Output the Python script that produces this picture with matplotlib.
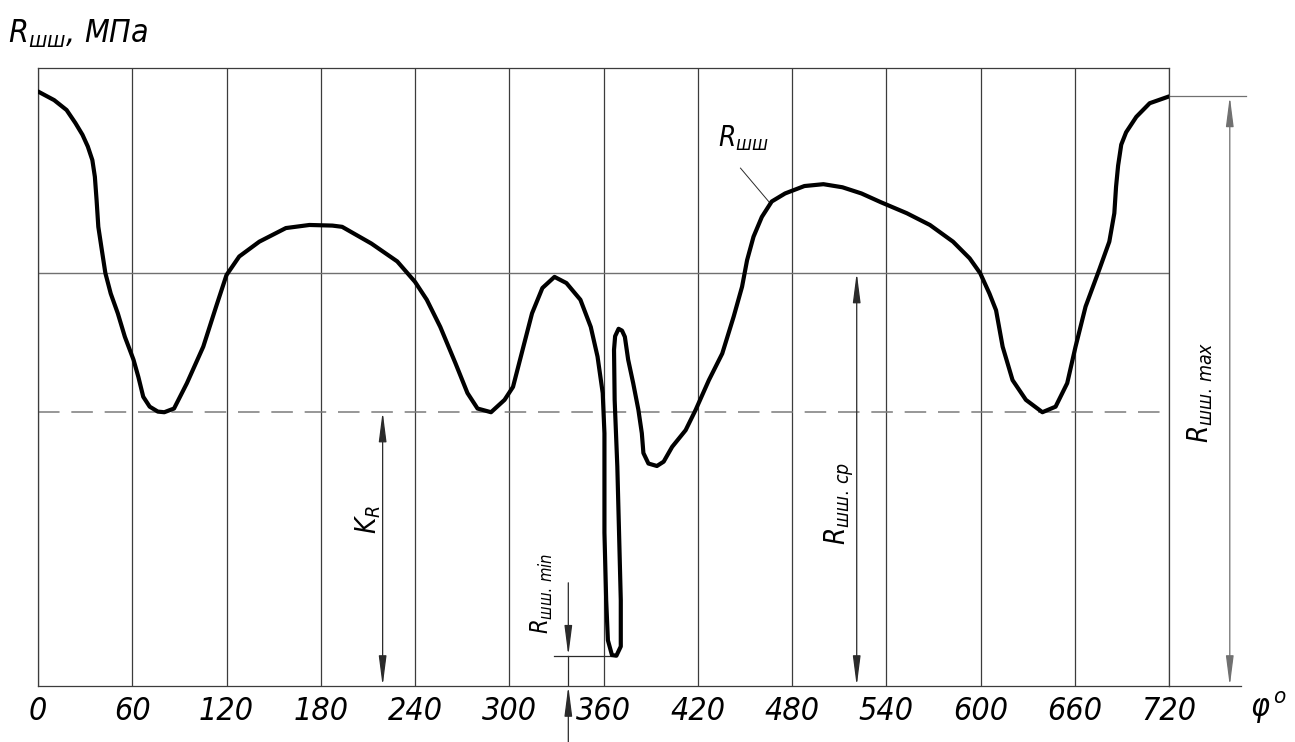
import matplotlib
matplotlib.use("Agg")
import matplotlib.pyplot as plt
from matplotlib import font_manager
from matplotlib.font_manager import FontProperties

# R_шш(φ): φ in degrees, R in drawing units (axis 0..100)
phi = [0, 10.3, 18.2, 23.8, 28.3, 31.7, 34.6, 36.2, 37.3, 38.4, 40.6, 42.9, 46.3, 50.8, 55.3,
       60.8, 63.9, 67.0, 71.1, 76.3, 80.4, 86.6, 94.8, 105.2, 113.4, 120.0,
       128.1, 140.9, 157.8, 172.8, 187.4, 193.6, 212.2, 228.7, 240.0,
       247.5, 256.1, 265.8, 273.4, 279.8, 288.4, 297.0,
       302.4, 309.0, 314.5, 321.1, 328.8, 336.4, 345.3, 351.9, 356.2, 359.5,
       360.6, 360.6, 361.7, 362.8, 365.4, 368.2, 371.0, 371.0, 369.9, 368.8,
       367.1, 366.7, 367.4, 369.6, 371.8, 373.6, 375.7, 378.9, 382.2, 384.4, 385.4,
       388.6, 394.0, 398.3, 403.7, 412.3, 418.7,
       427.1, 435.6, 442.9, 448.2, 451.4, 455.5, 460.8, 467.1, 475.6,
       487.9, 500.0, 512.1, 524.2, 536.4,
       553.1, 567.8, 582.5, 593.1, 599.8,
       605.7, 609.9, 614.1, 620.4, 628.9, 639.4, 647.8, 655.2,
       660.5, 666.9, 675.5, 682.0, 685.2, 686.3, 687.6, 689.6, 692.7, 699.2, 707.7, 720.0]
r_shsh = [96.2, 94.8, 93.2, 91.1, 89.2, 87.3, 85.1, 82.4, 78.6, 74.3, 70.6, 66.8, 63.5, 60.3, 56.5,
          52.8, 50.0, 46.8, 45.2, 44.4, 44.3, 44.9, 49.0, 54.9, 61.4, 66.5,
          69.5, 71.9, 74.1, 74.6, 74.5, 74.3, 71.6, 68.7, 65.4,
          62.5, 58.1, 52.2, 47.4, 44.9, 44.3, 46.3,
          48.4, 54.9, 60.3, 64.4, 66.2, 65.2, 62.5, 58.1, 53.3, 47.4,
          40.9, 24.8, 13.9, 7.4, 5.0, 4.9, 6.4, 13.9, 24.8, 35.5,
          46.3, 54.4, 56.6, 57.8, 57.5, 56.5, 52.8, 49.0, 44.7, 40.9, 37.7,
          36.0, 35.6, 36.3, 38.7, 41.4, 44.7,
          49.5, 53.8, 59.8, 64.6, 68.9, 72.7, 75.9, 78.4, 79.7,
          80.9, 81.2, 80.7, 79.7, 78.3,
          76.5, 74.6, 71.9, 69.2, 66.8,
          63.5, 60.8, 54.9, 49.5, 46.3, 44.3, 45.2, 49.0,
          54.9, 61.4, 67.3, 71.9, 76.5, 80.8, 84.2, 87.6, 89.6, 92.1, 94.3, 95.4]

# characteristic levels
r_max = 95.4
r_mean = 66.9
k_r = 44.4
r_min = 4.9

phi_ticks = list(range(0, 721, 60))
tick_labels = [str(v) for v in phi_ticks]

# pick a narrow font if one is installed (drawing font is a narrow italic)
names = {f.name for f in font_manager.fontManager.ttflist}
has_cond = any(f.name == "DejaVu Sans" and f.stretch == "condensed"
               for f in font_manager.fontManager.ttflist)
if "Liberation Sans Narrow" in names:
    FONT, STRETCH, BIG = "Liberation Sans Narrow", "normal", 26
elif has_cond:
    FONT, STRETCH, BIG = "DejaVu Sans", "condensed", 23
else:
    FONT, STRETCH, BIG = "DejaVu Sans", "normal", 21

plt.rcParams["mathtext.fontset"] = "custom"
plt.rcParams["mathtext.it"] = f"{FONT}:italic:stretch={STRETCH}"
plt.rcParams["mathtext.rm"] = f"{FONT}:stretch={STRETCH}"
plt.rcParams["mathtext.default"] = "it"


def fp(size):
    return FontProperties(family=FONT, style="italic", stretch=STRETCH, size=size)


GRID = "#3c3c3c"
LIGHT = "#707070"
DIM = "#2a2a2a"

W, H = 1295, 742
fig = plt.figure(figsize=(W / 100, H / 100), dpi=100)
ax = fig.add_axes([38 / W, 1 - 686 / H, (1169 - 38) / W, (686 - 68) / H])
ax.set_xlim(0, 720)
ax.set_ylim(0, 100)

for s in ax.spines.values():
    s.set_color(GRID)
    s.set_linewidth(0.9)

ax.set_xticks(phi_ticks)
ax.set_xticklabels(tick_labels, fontproperties=fp(BIG))
ax.set_yticks([])
ax.tick_params(axis="x", length=0, pad=7, colors="black")
ax.grid(axis="x", color=GRID, linewidth=0.9)

ax.axhline(r_mean, color=LIGHT, linewidth=1.0)
lw_d = 1.1
ax.axhline(k_r, color="#7a7a7a", linewidth=lw_d,
           linestyle=(0, (15.5 / lw_d, 8.5 / lw_d)))

# x axis runs on past the frame
ax.plot([720, 766], [0, 0], color=GRID, linewidth=0.9, clip_on=False)

ax.plot(phi, r_shsh, color="black", linewidth=3.0,
        solid_joinstyle="round", solid_capstyle="round", zorder=5)

HEAD = "head_length=1.4,head_width=0.18"


def arrow(x, y_from, y_to, color=DIM, both=False):
    style = ("<|-|>," if both else "-|>,") + HEAD
    ax.annotate("", xy=(x, y_to), xytext=(x, y_from), annotation_clip=False,
                arrowprops=dict(arrowstyle=style, color=color, lw=0.9,
                                shrinkA=0, shrinkB=0, mutation_scale=13))


# K_R
arrow(219.4, k_r, 0, both=True)
ax.text(210.0, 26.9, r"$K_R$", fontproperties=fp(BIG - 3), rotation=90,
        ha="center", va="center")

# R_шш.ср
arrow(521.2, r_mean, 0, both=True)
ax.text(510.3, 29.6, r"$R_{шш.\,ср}$", fontproperties=fp(BIG - 3), rotation=90,
        ha="center", va="center")

# R_шш.max
ax.plot([720, 769], [r_max, r_max], color=LIGHT, linewidth=0.9, clip_on=False)
arrow(758.7, r_max, 0, color=LIGHT, both=True)
ax.text(740.0, 47.6, r"$R_{шш.\,max}$", fontproperties=fp(BIG - 3), rotation=90,
        ha="center", va="center", clip_on=False)

# R_шш.min
ax.plot([328.8, 365.0], [r_min, r_min], color=DIM, linewidth=0.9)
ax.plot([337.6, 337.6], [r_min, 0], color=DIM, linewidth=0.9)
arrow(337.6, 16.7, r_min)
arrow(337.6, -9.1, 0)
ax.text(321.1, 15.0, r"$R_{шш.\,min}$", fontproperties=fp(BIG - 6), rotation=90,
        ha="center", va="center")

# R_шш leader
ax.plot([447.2, 465.8], [83.8, 78.2], color=DIM, linewidth=0.7)
ax.text(449.0, 88.6, r"$R_{шш}$", fontproperties=fp(BIG - 3),
        ha="center", va="center")

# axis captions
fig.text(8 / W, 1 - 34 / H, r"$R_{шш}$, МПа", fontproperties=fp(BIG),
         ha="left", va="center")
fig.text(1250 / W, 1 - 708 / H, r"$φ^{\,o}$", fontproperties=fp(BIG),
         ha="left", va="center")

fig.savefig("out.png", dpi=100, facecolor="white")
